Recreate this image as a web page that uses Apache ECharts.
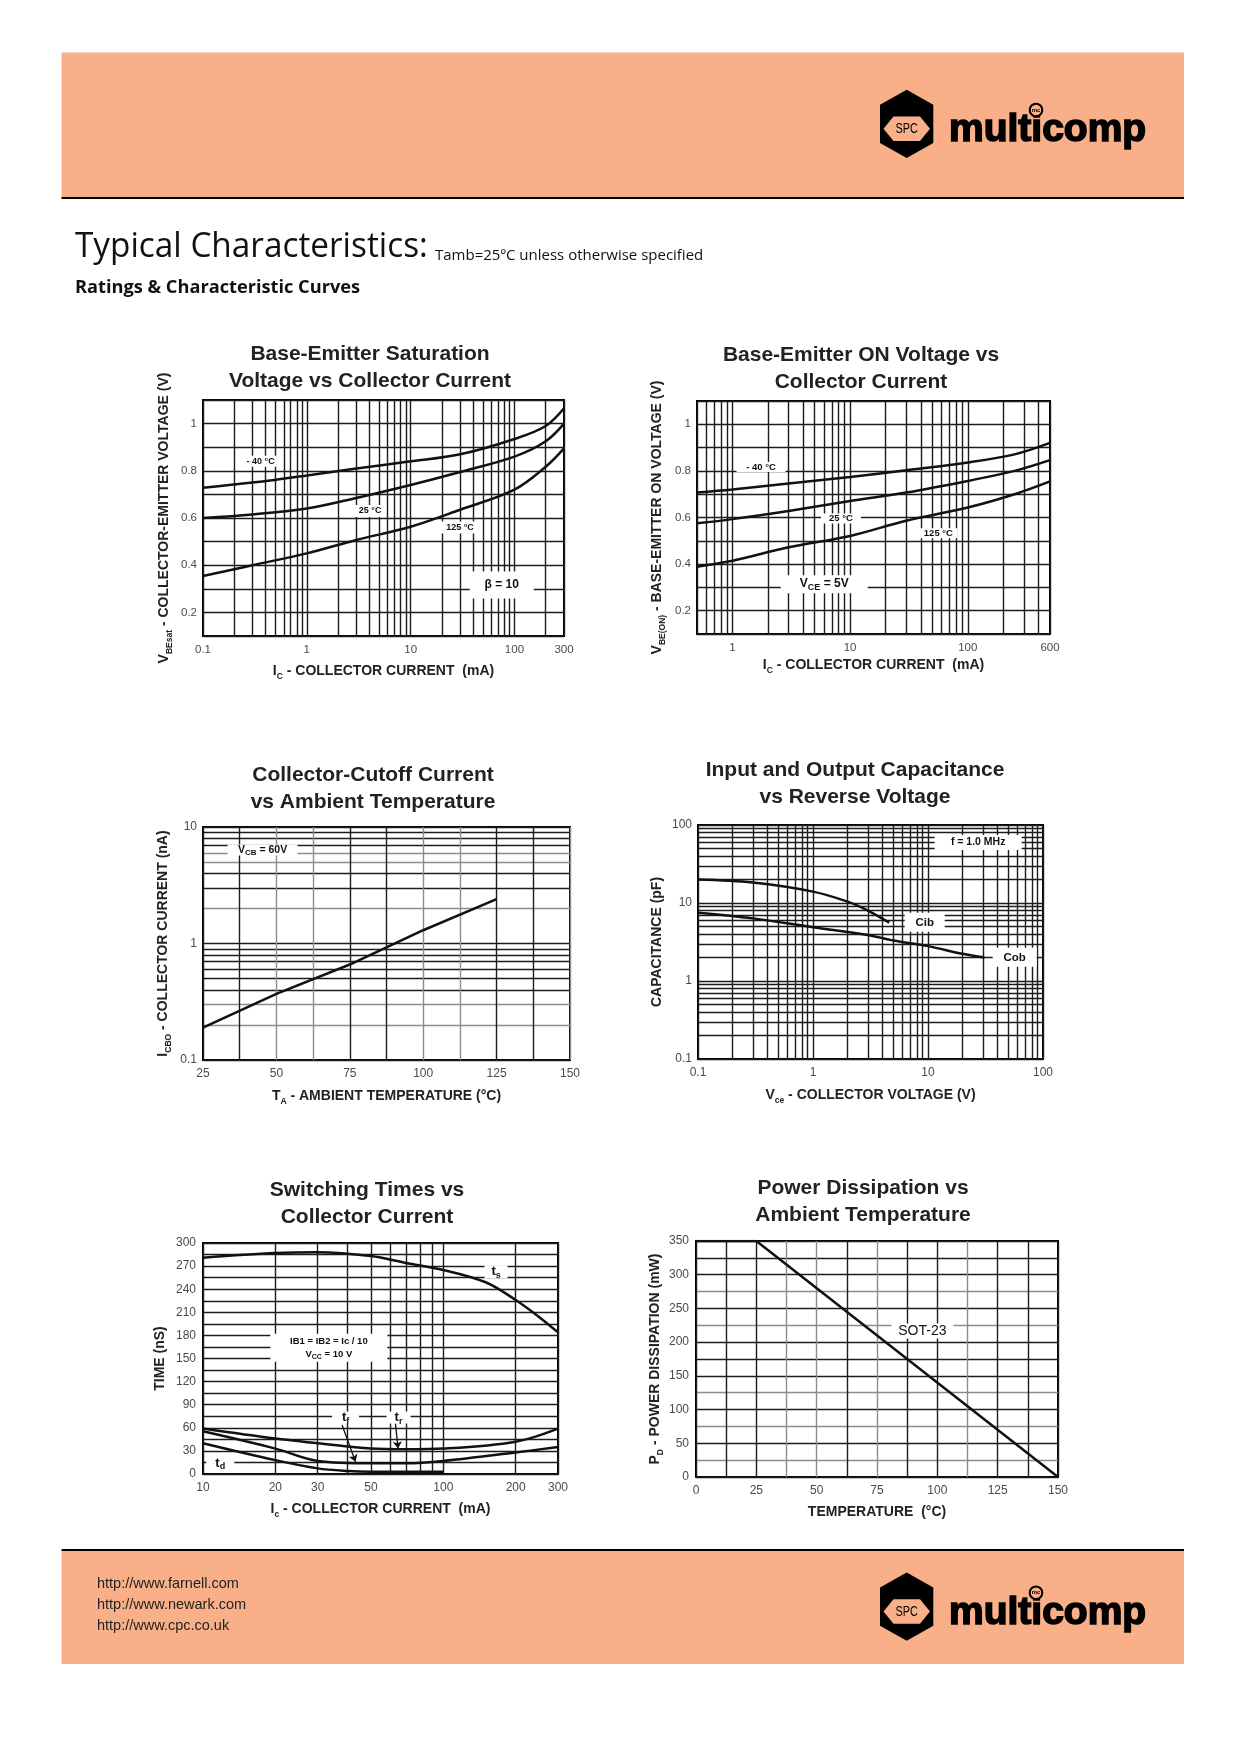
<!DOCTYPE html>
<html><head><meta charset="utf-8">
<script src="https://cdn.jsdelivr.net/npm/echarts@6/dist/echarts.min.js"></script>
<style>html,body{margin:0;padding:0;background:#fff;}#c{width:1240px;height:1754px;}</style>
</head><body><div id="c"></div>
<script>
// ---------------- DATA ----------------
// 1. Base-Emitter Saturation Voltage vs Collector Current (beta = 10)
const satX    = [0.1, 0.3, 1, 3, 10, 30, 100, 200, 300];
const satM40  = [0.728, 0.75, 0.78, 0.81, 0.84, 0.87, 0.935, 0.99, 1.065];
const sat25   = [0.60, 0.615, 0.64, 0.685, 0.74, 0.795, 0.86, 0.925, 1.0];
const sat125  = [0.354, 0.40, 0.45, 0.507, 0.563, 0.635, 0.72, 0.817, 0.895];
const satXTicks = [0.1, 1, 10, 100, 300];
const satYTicks = [0.2, 0.4, 0.6, 0.8, 1];
const satLabels = [[0.359, 0.84, '- 40 °C'], [4.07, 0.63, '25 °C'], [29.9, 0.56, '125 °C'], [75.5, 0.316, 'β = 10']];

// 2. Base-Emitter ON Voltage vs Collector Current (VCE = 5V)
const onX    = [0.5, 1, 3, 10, 30, 100, 250, 500];
const onM40  = [0.707, 0.72, 0.746, 0.774, 0.803, 0.836, 0.871, 0.92];
const on25   = [0.575, 0.593, 0.628, 0.671, 0.707, 0.757, 0.80, 0.846];
const on125  = [0.389, 0.414, 0.472, 0.521, 0.586, 0.643, 0.70, 0.755];
const onXTicks = [1, 10, 100, 500];
const onXTickLabels = ['1', '10', '100', '600'];
const onYTicks = [0.2, 0.4, 0.6, 0.8, 1];
const onLabels = [[1.75, 0.817, '- 40 °C'], [8.37, 0.596, '25 °C'], [56.3, 0.532, '125 °C'], [6.03, 0.314, 'V{sub|CE} = 5V']];

// 3. Collector-Cutoff Current vs Ambient Temperature
const cutX = [25, 50, 75, 100, 125];
const cutY = [0.19, 0.37, 0.66, 1.3, 2.4];
const cutXTicks = [25, 50, 75, 100, 125, 150];
const cutYTicks = [0.1, 1, 10];
const cutLabels = [[45.3, 6.35, 'V{sub|CB} = 60V']];

// 4. Input and Output Capacitance vs Reverse Voltage
const cibX = [0.1, 0.3, 1, 2, 3, 4.6];
const cibY = [20, 18.3, 14, 10.4, 8.0, 5.6];
const cobX = [0.1, 0.3, 1, 3, 5, 10, 20, 31];
const cobY = [7.5, 6.35, 4.9, 3.9, 3.3, 2.8, 2.23, 2.0];
const capXTicks = [0.1, 1, 10, 100];
const capYTicks = [0.1, 1, 10, 100];
const capLabels = [[27.3, 59.7, 'f = 1.0 MHz'], [9.36, 5.65, 'Cib'], [56.7, 2.01, 'Cob']];

// 5. Switching Times vs Collector Current
const tsX = [10, 20, 30, 50, 70, 100, 150, 200, 250, 300];
const tsY = [281, 287, 288, 283, 274, 265, 249, 226, 204, 184];
const trX = [10, 20, 30, 50, 70, 100, 200, 300];
const trY = [59, 46, 40, 33, 32, 33, 42, 59];
const tfX = [10, 20, 30, 50, 70, 100, 200, 300];
const tfY = [55.5, 33, 17, 14, 14, 17, 28, 35];
const tdX = [10, 20, 30, 40, 50, 70, 100];
const tdY = [40, 18, 7.3, 3.9, 3, 3, 3];
const swXTicks = [10, 20, 30, 50, 100, 200, 300];
const swYTicks = [0, 30, 60, 90, 120, 150, 180, 210, 240, 270, 300];
const swLabels = [[33.4, 164, 'IB1 = IB2 = Ic / 10\nV{sub|CC} = 10 V'], [165.7, 262.6, 't{sub|s}'],
                  [39.2, 73.3, 't{sub|f}'], [65.1, 73.3, 't{sub|r}'], [11.8, 14.3, 't{sub|d}']];
const swArrows = [[37.9, 63.6, 43.1, 16], [63.2, 65.8, 64.8, 33]];

// 6. Power Dissipation vs Ambient Temperature
const pdX = [0, 25, 150];
const pdY = [350, 350, 0];
const pdXTicks = [0, 25, 50, 75, 100, 125, 150];
const pdYTicks = [0, 50, 100, 150, 200, 250, 300, 350];
const pdLabels = [[93.8, 216.4, 'SOT-23']];

// ---------------- HELPERS ----------------
const SANS = "'Liberation Sans', Arial, sans-serif";
const DARK = '#1c1c1c', GRAY = '#8c8c8c';
const ORANGE = '#F9B088';

function logGrid(lo, hi) {
  const out = [];
  for (let e = -2; e <= 4; e++) for (let m = 1; m <= 9; m++) {
    const v = +(m * Math.pow(10, e)).toPrecision(6);
    if (v >= lo * 0.999 && v <= hi * 1.001) out.push(v);
  }
  return out;
}
const zip = (xs, ys) => xs.map((x, i) => [x, ys[i]]);

const nameRich = {
  n: {fontSize: 14, fontWeight: 'bold', color: '#222', fontFamily: SANS, lineHeight: 19},
  s: {fontSize: 8.5, fontWeight: 'bold', color: '#222', fontFamily: SANS, lineHeight: 9, verticalAlign: 'bottom'}
};

function axis(gi, o) {
  const a = {
    gridIndex: gi,
    axisLine: {show: false},
    axisTick: Object.assign({show: false}, o.tick || {}),
    splitLine: {show: true, lineStyle: {color: o.splitColor || DARK, width: 1.4}},
    axisLabel: Object.assign({color: '#4a4a4a', fontFamily: SANS, fontSize: o.fs || 11.5, margin: o.margin || 8}, o.label || {}),
    nameLocation: 'middle', nameGap: o.nameGap, name: o.name,
    nameTextStyle: {rich: nameRich, fontSize: 14, fontWeight: 'bold', color: '#222', fontFamily: SANS}
  };
  ['type', 'min', 'max', 'interval', 'logBase'].forEach(k => { if (o[k] !== undefined) a[k] = o[k]; });
  return a;
}

function curve(gi, xs, ys, smooth) {
  return {type: 'line', xAxisIndex: gi, yAxisIndex: gi, data: zip(xs, ys), showSymbol: false,
          smooth: smooth === undefined ? 0.35 : smooth,
          lineStyle: {color: '#111', width: 2.5}, z: 3, silent: true};
}

function richFor(fs) {
  return {sub: {fontSize: Math.round(fs * 0.72), fontWeight: 'bold', color: '#111', fontFamily: SANS, verticalAlign: 'bottom', lineHeight: 9}};
}
// white box annotation placed through the axes; box sizes and font sizes are style
function labels(gi, pts, fonts, boxes, weight, extra) {
  const s = {
    type: 'scatter', xAxisIndex: gi, yAxisIndex: gi, z: 5, silent: true, symbol: 'rect',
    itemStyle: {color: '#ffffff', opacity: 1, borderWidth: 0},
    data: pts.map((p, i) => {
      const fs = fonts[i] || fonts[0];
      return {value: [p[0], p[1]], name: p[2], symbolSize: boxes[i] || boxes[0],
              label: {fontSize: fs, lineHeight: fs + 3, rich: richFor(fs)}};
    }),
    label: {show: true, position: 'inside', formatter: p => p.name, color: '#111', textBorderWidth: 0,
            fontFamily: SANS, fontWeight: weight || 'bold'}
  };
  return Object.assign(s, extra || {});
}

const grids = [
  {left: 203, top: 400, width: 361, height: 236},
  {left: 697, top: 401, width: 353, height: 233},
  {left: 203, top: 827, width: 367, height: 233},
  {left: 698, top: 825, width: 345, height: 234},
  {left: 203, top: 1243, width: 355, height: 231},
  {left: 696, top: 1241, width: 362, height: 236}
].map(g => Object.assign({show: true, borderColor: '#000', borderWidth: 2, backgroundColor: 'rgba(0,0,0,0)'}, g));

const xAxes = [
  axis(0, {type: 'log', logBase: 10, min: 0.1, max: 300, tick: {customValues: logGrid(0.1, 300)},
           label: {customValues: satXTicks}, name: '{n|I}{s|C}{n| - COLLECTOR CURRENT  (mA)}', nameGap: 26}),
  axis(1, {type: 'log', logBase: 10, min: 0.5, max: 500, tick: {customValues: logGrid(0.5, 500)},
           label: {customValues: onXTicks, formatter: v => onXTickLabels[onXTicks.findIndex(t => Math.abs(t - v) < 1e-6 * t)] || ''},
           name: '{n|I}{s|C}{n| - COLLECTOR CURRENT  (mA)}', nameGap: 22}),
  axis(2, {type: 'value', min: 25, max: 150, interval: 12.5, splitColor: [DARK, DARK, GRAY, GRAY], fs: 12,
           label: {customValues: cutXTicks}, name: '{n|T}{s|A}{n| - AMBIENT TEMPERATURE (°C)}', nameGap: 27}),
  axis(3, {type: 'log', logBase: 10, min: 0.1, max: 100, tick: {customValues: logGrid(0.1, 100)}, fs: 12,
           label: {customValues: capXTicks}, name: '{n|V}{s|ce}{n| - COLLECTOR VOLTAGE (V)}', nameGap: 27}),
  axis(4, {type: 'log', logBase: 10, min: 10, max: 300, tick: {customValues: logGrid(10, 300)}, fs: 12,
           label: {customValues: swXTicks}, name: '{n|I}{s|c}{n| - COLLECTOR CURRENT  (mA)}', nameGap: 26}),
  axis(5, {type: 'value', min: 0, max: 150, interval: 12.5, fs: 12,
           splitColor: [DARK, DARK, DARK, GRAY, GRAY, DARK, GRAY, DARK, DARK, GRAY, DARK, DARK, DARK],
           label: {customValues: pdXTicks}, name: '{n|TEMPERATURE  (°C)}', nameGap: 26})
];
const yAxes = [
  axis(0, {type: 'value', min: 0.1, max: 1.1, interval: 0.1, label: {customValues: satYTicks}, margin: 6,
           name: '{n|V}{s|BEsat}{n| - COLLECTOR-EMITTER VOLTAGE (V)}', nameGap: 29}),
  axis(1, {type: 'value', min: 0.1, max: 1.1, interval: 0.1, label: {customValues: onYTicks}, margin: 6,
           name: '{n|V}{s|BE(ON)}{n| - BASE-EMITTER ON VOLTAGE (V)}', nameGap: 30}),
  axis(2, {type: 'log', logBase: 10, min: 0.1, max: 10, tick: {customValues: logGrid(0.1, 10)}, fs: 12, margin: 6,
           splitColor: [DARK, GRAY, GRAY, DARK, DARK, DARK, DARK, DARK, DARK, DARK, GRAY, DARK],
           label: {customValues: cutYTicks}, name: '{n|I}{s|CBO}{n| - COLLECTOR CURRENT (nA)}', nameGap: 30}),
  axis(3, {type: 'log', logBase: 10, min: 0.1, max: 100, tick: {customValues: logGrid(0.1, 100)}, fs: 12, margin: 6,
           label: {customValues: capYTicks}, name: '{n|CAPACITANCE (pF)}', nameGap: 31}),
  axis(4, {type: 'value', min: 0, max: 300, interval: 15, fs: 12, margin: 7,
           label: {customValues: swYTicks}, name: '{n|TIME (nS)}', nameGap: 33}),
  axis(5, {type: 'value', min: 0, max: 350, interval: 25, fs: 12, margin: 7,
           splitColor: [DARK, GRAY, DARK, GRAY, DARK, GRAY, DARK, DARK, DARK, GRAY, DARK, GRAY, DARK, DARK, DARK],
           label: {customValues: pdYTicks}, name: '{n|P}{s|D}{n| - POWER DISSIPATION (mW)}', nameGap: 29})
];

const series = [
  curve(0, satX, satM40), curve(0, satX, sat25), curve(0, satX, sat125),
  labels(0, satLabels, [9, 9, 9, 12], [[40, 11], [32, 12], [39, 12], [64, 27]]),
  curve(1, onX, onM40), curve(1, onX, on25), curve(1, onX, on125),
  labels(1, onLabels, [9.5, 9.5, 9.5, 12], [[49, 10], [40, 10], [38, 10], [87, 18]]),
  curve(2, cutX, cutY, false),
  labels(2, cutLabels, [10.5], [[70, 11]]),
  curve(3, cibX, cibY), curve(3, cobX, cobY),
  labels(3, capLabels, [10.5, 11.5, 11.5], [[87, 15], [40, 19], [44, 19]]),
  curve(4, tsX, tsY), curve(4, trX, trY), curve(4, tfX, tfY), curve(4, tdX, tdY),
  labels(4, swLabels, [9.5, 13, 13, 13, 13], [[117, 28], [23, 13], [27, 12], [24, 12], [28, 10]], 'bold', {
    markLine: {silent: true, symbol: ['none', 'arrow'], symbolSize: 7, label: {show: false},
               lineStyle: {color: '#111', width: 1.3, type: 'solid'},
               data: swArrows.map(a => [{coord: [a[0], a[1]]}, {coord: [a[2], a[3]]}])}
  }),
  curve(5, pdX, pdY, false),
  labels(5, pdLabels, [14], [[62, 15]], 'normal')
];

// ---------------- PAGE GRAPHICS ----------------
function logo(cy) {
  const dy = cy - 123.85;
  const P = pts => pts.map(p => [p[0], p[1] + dy]);
  return [
    {type: 'polygon', shape: {points: P([[906.7, 89.7], [933.3, 104.7], [933.3, 143], [906.7, 158], [880, 143], [880, 104.7]])}, style: {fill: '#000'}},
    {type: 'polygon', shape: {points: P([[883.5, 128.7], [893.5, 116.5], [920, 116.5], [930, 128.7], [920, 141], [893.5, 141]])}, style: {fill: ORANGE}},
    {type: 'text', x: 906.7, y: 129 + dy, scaleX: 0.78, style: {text: 'SPC', fill: '#000', font: "14px 'Liberation Sans'", align: 'center', verticalAlign: 'middle'}},
    {type: 'text', x: 949, y: 130.5 + dy, style: {text: 'multicomp', fill: '#000', stroke: '#000', lineWidth: 1.6, font: "bold 39px 'Liberation Sans'", align: 'left', verticalAlign: 'middle'}},
    {type: 'circle', shape: {cx: 1036, cy: 110 + dy, r: 6.3}, style: {fill: ORANGE, stroke: '#000', lineWidth: 2}},
    {type: 'text', x: 1036, y: 110 + dy, style: {text: 'mc', fill: '#000', font: "bold 6px 'Liberation Sans'", align: 'center', verticalAlign: 'middle'}}
  ];
}
function title(cx, cy, txt) {
  return {type: 'text', x: cx, y: cy, style: {text: txt, align: 'center', verticalAlign: 'middle', fill: '#222',
          font: "bold 21px 'Liberation Sans'", lineHeight: 27}};
}
const graphic = [
  {type: 'rect', shape: {x: 61.5, y: 52.5, width: 1122.5, height: 145.5}, style: {fill: ORANGE}},
  {type: 'line', shape: {x1: 61.5, y1: 198, x2: 1184, y2: 198}, style: {stroke: '#000', lineWidth: 2}},
  ...logo(123.85),
  {type: 'text', x: 75, y: 247, scaleX: 0.98, style: {text: 'Typical Characteristics:', fill: '#111', font: "34px 'Open Sans'", align: 'left', verticalAlign: 'middle'}},
  {type: 'text', x: 435, y: 255.5, scaleX: 1.0, style: {text: 'Tamb=25ºC unless otherwise specified', fill: '#111', font: "15px 'Open Sans'", align: 'left', verticalAlign: 'middle'}},
  {type: 'text', x: 75, y: 288, scaleX: 1.04, style: {text: 'Ratings & Characteristic Curves', fill: '#111', font: "bold 17.5px 'Open Sans'", align: 'left', verticalAlign: 'middle'}},
  title(370, 367.5, 'Base-Emitter Saturation\nVoltage vs Collector Current'),
  title(861, 368.3, 'Base-Emitter ON Voltage vs\nCollector Current'),
  title(373, 788.3, 'Collector-Cutoff Current\nvs Ambient Temperature'),
  title(855, 784.2, 'Input and Output Capacitance\nvs Reverse Voltage'),
  title(367, 1203.3, 'Switching Times vs\nCollector Current'),
  title(863, 1201.7, 'Power Dissipation vs\nAmbient Temperature'),
  {type: 'rect', shape: {x: 61.5, y: 1550, width: 1122.5, height: 114}, style: {fill: ORANGE}},
  {type: 'line', shape: {x1: 61.5, y1: 1550, x2: 1184, y2: 1550}, style: {stroke: '#000', lineWidth: 2}},
  {type: 'text', x: 97, y: 1584, style: {text: 'http://www.farnell.com', fill: '#222', font: "14.5px 'Liberation Sans'", verticalAlign: 'middle'}},
  {type: 'text', x: 97, y: 1605, style: {text: 'http://www.newark.com', fill: '#222', font: "14.5px 'Liberation Sans'", verticalAlign: 'middle'}},
  {type: 'text', x: 97, y: 1626, style: {text: 'http://www.cpc.co.uk', fill: '#222', font: "14.5px 'Liberation Sans'", verticalAlign: 'middle'}},
  ...logo(1606.6)
];

const chart = echarts.init(document.getElementById('c'), null, {renderer: 'canvas'});
chart.setOption({animation: false, backgroundColor: '#fff', grid: grids, xAxis: xAxes, yAxis: yAxes, series, graphic});
</script></body></html>
